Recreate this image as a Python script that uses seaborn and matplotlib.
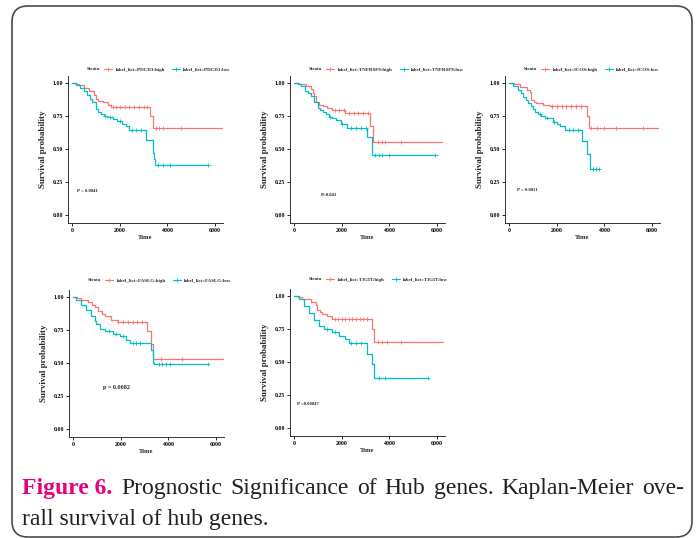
import numpy as np
import pandas as pd
import matplotlib
matplotlib.use('Agg')
import matplotlib.pyplot as plt
import seaborn as sns
from matplotlib.lines import Line2D
from matplotlib.patches import FancyBboxPatch

# Kaplan-Meier step points (time, survival after the step)
PDCD1_HIGH_T = [0, 150, 300, 500, 700, 900, 1000, 1100, 1300, 1500, 1650, 3250, 3390, 6350]
PDCD1_HIGH_S = [1.0, 0.99, 0.98, 0.96, 0.94, 0.91, 0.88, 0.86, 0.85, 0.83, 0.818, 0.75, 0.66, 0.66]
PDCD1_HIGH_CENS = [1700, 1850, 2000, 2200, 2400, 2600, 2800, 3000, 3150, 3500, 3650, 3800, 4550]
PDCD1_LOW_T = [0, 150, 350, 500, 640, 750, 850, 990, 1100, 1200, 1350, 1480, 1700, 1900, 2100,
               2260, 2400, 3100, 3390, 3420, 3460, 5720]
PDCD1_LOW_S = [1.0, 0.985, 0.96, 0.935, 0.91, 0.88, 0.85, 0.80, 0.78, 0.765, 0.75, 0.74, 0.725, 0.71,
               0.69, 0.67, 0.645, 0.57, 0.47, 0.42, 0.375, 0.375]
PDCD1_LOW_CENS = [1400, 1600, 2000, 2500, 2700, 2900, 3600, 3800, 4100, 5720]

TNFRSF9_HIGH_T = [0, 200, 500, 715, 800, 850, 920, 1050, 1200, 1400, 1600, 2150, 3190, 3320, 6200]
TNFRSF9_HIGH_S = [1.0, 0.99, 0.975, 0.95, 0.92, 0.90, 0.85, 0.83, 0.82, 0.81, 0.795, 0.77, 0.67, 0.55, 0.55]
TNFRSF9_HIGH_CENS = [1700, 1900, 2100, 2300, 2500, 2700, 2900, 3100, 3500, 3700, 3800, 4500]
TNFRSF9_LOW_T = [0, 150, 300, 440, 600, 715, 850, 990, 1100, 1200, 1350, 1470, 1600, 1745, 1950,
                 2230, 3050, 3250, 5930]
TNFRSF9_LOW_S = [1.0, 0.99, 0.975, 0.94, 0.92, 0.90, 0.85, 0.81, 0.79, 0.78, 0.76, 0.74, 0.73, 0.715,
                 0.69, 0.66, 0.59, 0.455, 0.455]
TNFRSF9_LOW_CENS = [1500, 2000, 2400, 2600, 2800, 3000, 3400, 3550, 3700, 4000, 5930]

ICOS_HIGH_T = [0, 200, 460, 735, 870, 940, 1050, 1150, 1430, 1700, 3270, 3340, 6250]
ICOS_HIGH_S = [1.0, 0.99, 0.97, 0.945, 0.93, 0.87, 0.855, 0.845, 0.83, 0.82, 0.75, 0.66, 0.66]
ICOS_HIGH_CENS = [1800, 2000, 2200, 2400, 2600, 2800, 3000, 3450, 3700, 4000, 4500, 5600]
ICOS_LOW_T = [0, 180, 390, 500, 600, 700, 800, 900, 1010, 1100, 1220, 1350, 1500, 1840, 2000,
              2120, 2330, 3060, 3270, 3390, 3780]
ICOS_LOW_S = [1.0, 0.975, 0.945, 0.92, 0.895, 0.87, 0.845, 0.82, 0.80, 0.78, 0.765, 0.745, 0.73,
              0.705, 0.69, 0.67, 0.64, 0.56, 0.46, 0.35, 0.35]
ICOS_LOW_CENS = [1300, 1600, 1900, 2500, 2700, 2900, 3500, 3650, 3780]

FASLG_HIGH_T = [0, 150, 350, 630, 800, 900, 1050, 1200, 1320, 1600, 1880, 3100, 3250, 3350, 6320]
FASLG_HIGH_S = [1.0, 0.99, 0.975, 0.96, 0.94, 0.925, 0.89, 0.87, 0.85, 0.825, 0.81, 0.74, 0.64, 0.53, 0.53]
FASLG_HIGH_CENS = [1900, 2100, 2300, 2500, 2700, 2900, 3700, 4550]
FASLG_LOW_T = [0, 140, 350, 560, 770, 900, 975, 1115, 1320, 1670, 1950, 2230, 2370, 3280, 3350,
               3390, 5650]
FASLG_LOW_S = [1.0, 0.975, 0.94, 0.90, 0.85, 0.815, 0.79, 0.755, 0.74, 0.72, 0.70, 0.675, 0.65,
               0.60, 0.50, 0.49, 0.49]
FASLG_LOW_CENS = [1500, 1800, 2100, 2500, 2650, 2800, 3600, 3750, 3900, 4050, 5650]

TIGIT_HIGH_T = [0, 150, 350, 700, 900, 970, 1100, 1180, 1390, 1600, 3260, 3360, 6250]
TIGIT_HIGH_S = [1.0, 0.99, 0.975, 0.95, 0.93, 0.89, 0.875, 0.865, 0.845, 0.825, 0.745, 0.65, 0.65]
TIGIT_HIGH_CENS = [1700, 1850, 2000, 2150, 2300, 2450, 2600, 2750, 2900, 3050, 3500, 3700, 3900, 4500]
TIGIT_LOW_T = [0, 210, 420, 625, 830, 1040, 1250, 1600, 1875, 2150, 2290, 3050, 3260, 3360, 5625]
TIGIT_LOW_S = [1.0, 0.975, 0.92, 0.87, 0.815, 0.77, 0.745, 0.725, 0.695, 0.67, 0.64, 0.56, 0.48,
               0.38, 0.38]
TIGIT_LOW_CENS = [1400, 1700, 2400, 2600, 2800, 3550, 3800, 5625]

genes = ['PDCD1', 'TNFRSF9', 'ICOS', 'FASLG', 'TIGIT']
pvals = ['P = 0.0041', 'P=0.041', 'P = 0.0011', 'p = 0.0082', 'P =0.00047']
x_ticks = [0, 2000, 4000, 6000]
y_ticks = [0.0, 0.25, 0.50, 0.75, 1.00]
y_ticklabels = ['0.00', '0.25', '0.50', '0.75', '1.00']

curves = {
    'PDCD1': (PDCD1_HIGH_T, PDCD1_HIGH_S, PDCD1_HIGH_CENS, PDCD1_LOW_T, PDCD1_LOW_S, PDCD1_LOW_CENS),
    'TNFRSF9': (TNFRSF9_HIGH_T, TNFRSF9_HIGH_S, TNFRSF9_HIGH_CENS, TNFRSF9_LOW_T, TNFRSF9_LOW_S, TNFRSF9_LOW_CENS),
    'ICOS': (ICOS_HIGH_T, ICOS_HIGH_S, ICOS_HIGH_CENS, ICOS_LOW_T, ICOS_LOW_S, ICOS_LOW_CENS),
    'FASLG': (FASLG_HIGH_T, FASLG_HIGH_S, FASLG_HIGH_CENS, FASLG_LOW_T, FASLG_LOW_S, FASLG_LOW_CENS),
    'TIGIT': (TIGIT_HIGH_T, TIGIT_HIGH_S, TIGIT_HIGH_CENS, TIGIT_LOW_T, TIGIT_LOW_S, TIGIT_LOW_CENS),
}

# layout in pixels: left spine x, bottom spine y
W, H = 699, 538
panel_pos = [(68, 223), (290, 223), (505, 223), (69, 437), (290, 436)]
ax_w, ax_h = 155, 147
legend_y = [1.045, 1.045, 1.045, 1.065, 1.065]
ptext_pos = [(200, 0.185), (1130, 0.155), (320, 0.19), (1250, 0.31), (140, 0.18)]
ptext_size = [3.4, 3.4, 3.4, 4.4, 3.4]

RED = '#F8766D'
CYAN = '#00BFC4'

sns.set_theme(style='ticks')
plt.rcParams['font.family'] = ['Liberation Serif', 'DejaVu Serif']
plt.rcParams['font.weight'] = 'bold'

fig = plt.figure(figsize=(W / 100, H / 100), dpi=100)
fig.patch.set_facecolor('white')

# frame + caption layer
bg = fig.add_axes([0, 0, 1, 1], zorder=-5)
bg.set_xlim(0, W)
bg.set_ylim(H, 0)
bg.axis('off')
bg.add_patch(FancyBboxPatch((12, 6), 680, 531, boxstyle='round,pad=0,rounding_size=16',
                            fill=False, ec='#4a4a4a', lw=1.2))


def step_value(times, surv, t):
    i = np.searchsorted(times, t, side='right') - 1
    return surv[i]


for k, gene in enumerate(genes):
    ht, hs, hc, lt, ls, lc = curves[gene]
    hi_lab = f'label_list={gene}:high'
    lo_lab = f'label_list={gene}:low'
    df = pd.concat([
        pd.DataFrame({'time': ht, 'surv': hs, 'strata': hi_lab}),
        pd.DataFrame({'time': lt, 'surv': ls, 'strata': lo_lab}),
    ])
    cens = pd.concat([
        pd.DataFrame({'time': hc, 'surv': [step_value(ht, hs, t) for t in hc], 'strata': hi_lab}),
        pd.DataFrame({'time': lc, 'surv': [step_value(lt, ls, t) for t in lc], 'strata': lo_lab}),
    ])

    x0, yb = panel_pos[k]
    ax = fig.add_axes([x0 / W, (H - yb) / H, ax_w / W, ax_h / H])
    pal = {hi_lab: RED, lo_lab: CYAN}
    sns.lineplot(data=df, x='time', y='surv', hue='strata', palette=pal, drawstyle='steps-post',
                 estimator=None, sort=False, legend=False, lw=0.9, ax=ax)
    sns.scatterplot(data=cens, x='time', y='surv', hue='strata', palette=pal, marker='+',
                    s=9, linewidth=0.6, legend=False, ax=ax)

    ax.set_xlim(-170, 6330)
    ax.set_ylim(-0.06, 1.05)
    ax.set_xticks(x_ticks)
    ax.set_yticks(y_ticks)
    ax.set_yticklabels(y_ticklabels)
    ax.tick_params(labelsize=4.2, length=2, width=0.6, pad=1.5, colors='black')
    for s in ['left', 'bottom']:
        ax.spines[s].set_linewidth(0.7)
        ax.spines[s].set_color('#333333')
    sns.despine(ax=ax)
    ax.set_xlabel('Time', fontsize=4.7, fontweight='bold', labelpad=1.5)
    ax.set_ylabel('Survival probability', fontsize=6.5, fontweight='bold', labelpad=4)

    px, py = ptext_pos[k]
    ax.text(px, py, pvals[k], fontsize=ptext_size[k], fontweight='bold', va='center')

    # legend: "Strata" on the left, two entries in one row
    ly = legend_y[k]
    ax.text(0.12, ly, 'Strata', transform=ax.transAxes, fontsize=3.6, fontweight='bold',
            va='center')
    handles = [Line2D([], [], color=RED, lw=0.8, marker='+', ms=2.5, mew=0.6),
               Line2D([], [], color=CYAN, lw=0.8, marker='+', ms=2.5, mew=0.6)]
    ax.legend(handles, [hi_lab, lo_lab], loc='center left', bbox_to_anchor=(0.235, ly), ncol=2,
              frameon=False, fontsize=3.6, handlelength=1.6, handletextpad=0.6,
              columnspacing=1.5, borderpad=0.0, borderaxespad=0.0)

# caption
MAGENTA = '#E5007E'
CAP = 17
bg.text(22, 494, 'Figure 6.', fontsize=CAP, fontweight='bold', color=MAGENTA, va='baseline')
line1 = 'Prognostic Significance of Hub genes. Kaplan-Meier ove-'.split(' ')
fig.canvas.draw()
r = fig.canvas.get_renderer()
words = [bg.text(0, 494, w, fontsize=CAP, fontweight='normal', color='#231f20', va='baseline')
         for w in line1]
widths = [t.get_window_extent(r).width for t in words]
x_start, x_end = 121, 684
gap = (x_end - x_start - sum(widths)) / (len(words) - 1)
x = x_start
for t, wd in zip(words, widths):
    t.set_x(x)
    x += wd + gap
bg.text(22, 525, 'rall survival of hub genes.', fontsize=CAP, fontweight='normal',
        color='#231f20', va='baseline')

fig.savefig('out.png', dpi=100)
